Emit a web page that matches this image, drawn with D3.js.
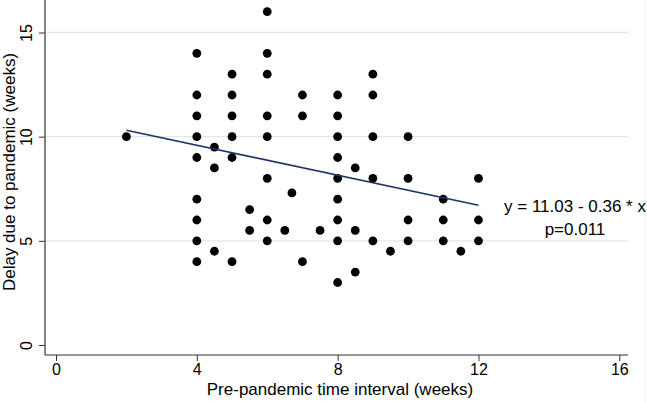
<!DOCTYPE html>
<html>
  <head>
    <meta charset="utf-8">
    <script src="https://d3js.org/d3.v7.min.js"></script>
    <style>
      body { margin: 0; background: #fff; }
      text { font-family: "Liberation Sans", Arial, sans-serif; fill: #000; }
    </style>
  </head>
<body>
  <script type="text/javascript">

  // x = pre-pandemic interval (weeks), y = delay due to pandemic (weeks)
  var xVals = [2,
    4, 4, 4, 4, 4, 4, 4, 4, 4,
    4.5, 4.5, 4.5,
    5, 5, 5, 5, 5, 5,
    5.5, 5.5,
    6, 6, 6, 6, 6, 6, 6, 6,
    6.5, 6.7,
    7, 7, 7,
    7.5,
    8, 8, 8, 8, 8, 8, 8, 8, 8,
    8.5, 8.5, 8.5,
    9, 9, 9, 9, 9,
    9.5,
    10, 10, 10, 10,
    11, 11, 11,
    11.5,
    12, 12, 12];
  var yVals = [10,
    14, 12, 11, 10, 9, 7, 6, 5, 4,
    9.5, 8.5, 4.5,
    13, 12, 11, 10, 9, 4,
    6.5, 5.5,
    16, 14, 13, 11, 10, 8, 6, 5,
    5.5, 7.3,
    12, 11, 4,
    5.5,
    12, 11, 10, 9, 8, 7, 6, 5, 3,
    8.5, 5.5, 3.5,
    13, 12, 10, 8, 5,
    4.5,
    10, 8, 6, 5,
    7, 6, 5,
    4.5,
    8, 6, 5];

  var xTicks = [0, 4, 8, 12, 16];
  var yTicks = [0, 5, 10, 15];
  var fitIntercept = 11.03, fitSlope = -0.36;
  var fitLabel = "y = 11.03 - 0.36 * x";
  var pLabel = "p=0.011";

  var width = 647, height = 402;
  var svg = d3.select("body").append("svg")
      .attr("width", width).attr("height", height);

  var x = d3.scaleLinear().domain([0, 16]).range([56, 619.3]);
  var y = d3.scaleLinear().domain([0, 15]).range([345, 32.5]);

  var plotLeft = 45, plotRight = 628, plotTop = 0, plotBottom = 355;

  // faint frame edge on the right
  svg.append("line")
      .attr("x1", 645.5).attr("x2", 645.5)
      .attr("y1", 0).attr("y2", height)
      .attr("stroke", "#f2f2f2");

  // gridlines
  svg.selectAll(".grid").data(yTicks.filter(function(d){ return d > 0; }))
    .enter().append("line")
      .attr("x1", plotLeft).attr("x2", plotRight)
      .attr("y1", function(d){ return y(d); })
      .attr("y2", function(d){ return y(d); })
      .attr("stroke", "#dde9ee").attr("stroke-width", 1.3);

  // axes
  var xAxis = svg.append("g")
      .attr("transform", "translate(0," + plotBottom + ")")
      .call(d3.axisBottom(x).tickValues(xTicks).tickSize(6).tickPadding(3));
  xAxis.select(".domain").remove();
  xAxis.selectAll("text").attr("font-size", 16).style("font-family", "Liberation Sans, Arial, sans-serif");

  var yAxis = svg.append("g")
      .attr("transform", "translate(" + plotLeft + ",0)")
      .call(d3.axisLeft(y).tickValues(yTicks).tickSize(6).tickPadding(3));
  yAxis.select(".domain").remove();
  yAxis.selectAll("text")
      .attr("font-size", 16)
      .style("font-family", "Liberation Sans, Arial, sans-serif")
      .attr("text-anchor", "middle")
      .attr("x", 0).attr("dy", 0)
      .attr("transform", "translate(-13,0) rotate(-90)");

  svg.selectAll(".tick line").attr("stroke", "#333");

  svg.append("line")
      .attr("x1", plotLeft).attr("x2", plotLeft)
      .attr("y1", plotTop).attr("y2", plotBottom)
      .attr("stroke", "#333").attr("stroke-width", 1.2);
  svg.append("line")
      .attr("x1", plotLeft).attr("x2", plotRight)
      .attr("y1", plotBottom).attr("y2", plotBottom)
      .attr("stroke", "#333").attr("stroke-width", 1.2);

  // axis titles
  svg.append("text")
      .attr("x", 340).attr("y", 395)
      .attr("text-anchor", "middle")
      .attr("font-size", 17)
      .text("Pre-pandemic time interval (weeks)");
  svg.append("text")
      .attr("transform", "translate(15,172) rotate(-90)")
      .attr("text-anchor", "middle")
      .attr("font-size", 17)
      .text("Delay due to pandemic (weeks)");

  // points
  var points = xVals.map(function(d, i){ return {x: d, y: yVals[i]}; });
  svg.selectAll(".dot").data(points)
    .enter().append("circle")
      .attr("cx", function(d){ return x(d.x); })
      .attr("cy", function(d){ return y(d.y); })
      .attr("r", 4.4)
      .attr("fill", "#000");

  // fitted line
  var xMin = d3.min(xVals), xMax = d3.max(xVals);
  svg.append("line")
      .attr("x1", x(xMin)).attr("y1", y(fitIntercept + fitSlope * xMin))
      .attr("x2", x(xMax)).attr("y2", y(fitIntercept + fitSlope * xMax))
      .attr("stroke", "#1f3569").attr("stroke-width", 1.6);

  svg.append("text")
      .attr("x", 575).attr("y", 212)
      .attr("text-anchor", "middle")
      .attr("font-size", 17)
      .text(fitLabel);
  svg.append("text")
      .attr("x", 575).attr("y", 235)
      .attr("text-anchor", "middle")
      .attr("font-size", 17)
      .text(pLabel);

  </script>
</body>
</html>
